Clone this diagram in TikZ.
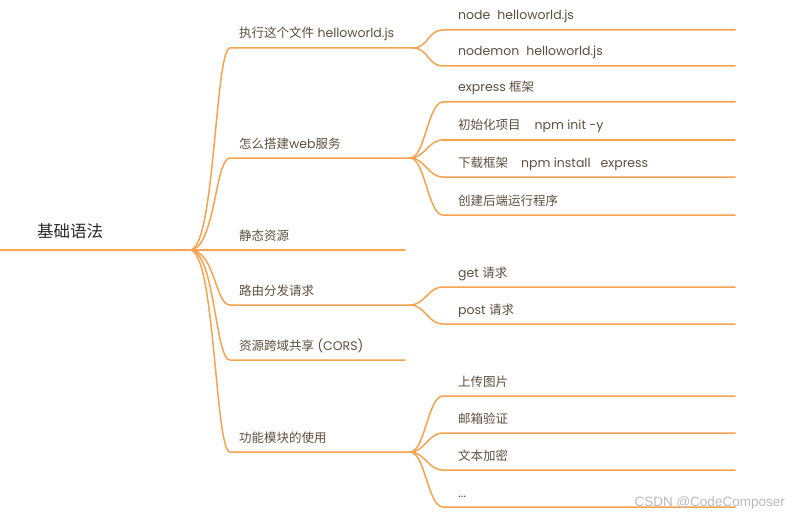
\documentclass[tikz,border=0pt]{standalone}
\usepackage{fontspec}
\setmainfont{Poppins}
\newfontfamily\cjk{Noto Sans CJK SC}
\newfontfamily\wmfont{Liberation Sans}
\definecolor{mmline}{RGB}{246,162,78}
\definecolor{mmtext}{RGB}{94,78,62}
\definecolor{mmroot}{RGB}{40,40,40}
\definecolor{wmgray}{RGB}{185,185,185}
% #1 parent, #2 name, #3 start x, #4 end x, #5 y, #6 label x, #7 text
\newcommand\mmbranch[7]{%
  \coordinate (#2-s) at (#3,#5);
  \coordinate (#2-e) at (#4,#5);
  \node[lab] (#2) at (#6,#5-10) {#7};
  \draw[branch] (#1) .. controls +(\mmca,0) and +(-\mmcb,0) .. (#2-s) -- (#2-e);
}
\begin{document}
\begin{tikzpicture}[x=1pt,y=-1pt,
  branch/.style={draw=mmline,line width=1.5pt,line cap=round},
  lab/.style={anchor=base west,inner sep=0pt,text=mmtext,font=\fontsize{12.5}{14}\selectfont},
  rootlab/.style={anchor=base west,inner sep=0pt,text=mmroot,font=\fontsize{16.5}{18}\selectfont},
  wm/.style={anchor=base east,inner sep=0pt,text=wmgray,font=\wmfont\fontsize{13.5}{15}\selectfont}]
\useasboundingbox (0,0) rectangle (792,516);

% root
\coordinate (r0) at (0,250);
\coordinate (r1) at (190,250);
\node[rootlab] (root) at (37,237) {\cjk 基础语法};
\draw[branch] (r0) -- (r1);

% level 1
\def\mmca{25}\def\mmcb{15}
\mmbranch{r1}{a}{230}{413}{48}{239}{{\cjk 执行这个文件} helloworld.js}
\mmbranch{r1}{b}{230}{410}{158}{239}{{\cjk 怎么搭建}web{\cjk 服务}}
\mmbranch{r1}{c}{230}{405}{250}{239}{{\cjk 静态资源}}
\mmbranch{r1}{d}{230}{410}{305}{239}{{\cjk 路由分发请求}}
\mmbranch{r1}{e}{230}{405}{360}{239}{{\cjk 资源跨域共享} (CORS)}
\mmbranch{r1}{f}{230}{410}{452}{239}{{\cjk 功能模块的使用}}

% level 2
\def\mmca{15}\def\mmcb{15}
\mmbranch{a-e}{a1}{443}{735}{30}{458}{node\hspace{7pt}helloworld.js}
\mmbranch{a-e}{a2}{443}{735}{66}{458}{nodemon\hspace{7pt}helloworld.js}

\mmbranch{b-e}{b1}{443}{735}{102}{458}{express {\cjk 框架}}
\mmbranch{b-e}{b2}{443}{735}{140}{458}{{\cjk 初始化项目}\hspace{14pt}npm init -y}
\mmbranch{b-e}{b3}{443}{735}{177}{458}{{\cjk 下载框架}\hspace{13pt}npm install\hspace{10pt}express}
\mmbranch{b-e}{b4}{443}{735}{215}{458}{{\cjk 创建后端运行程序}}

\mmbranch{d-e}{d1}{443}{735}{287}{458}{get {\cjk 请求}}
\mmbranch{d-e}{d2}{443}{735}{324}{458}{post {\cjk 请求}}

\mmbranch{f-e}{f1}{443}{735}{396}{458}{{\cjk 上传图片}}
\mmbranch{f-e}{f2}{443}{735}{433}{458}{{\cjk 邮箱验证}}
\mmbranch{f-e}{f3}{443}{735}{470}{458}{{\cjk 文本加密}}
\mmbranch{f-e}{f4}{443}{735}{507}{458}{...}

% watermark
\node[wm] (wmark) at (785,506) {CSDN @CodeComposer};
\end{tikzpicture}
\end{document}
